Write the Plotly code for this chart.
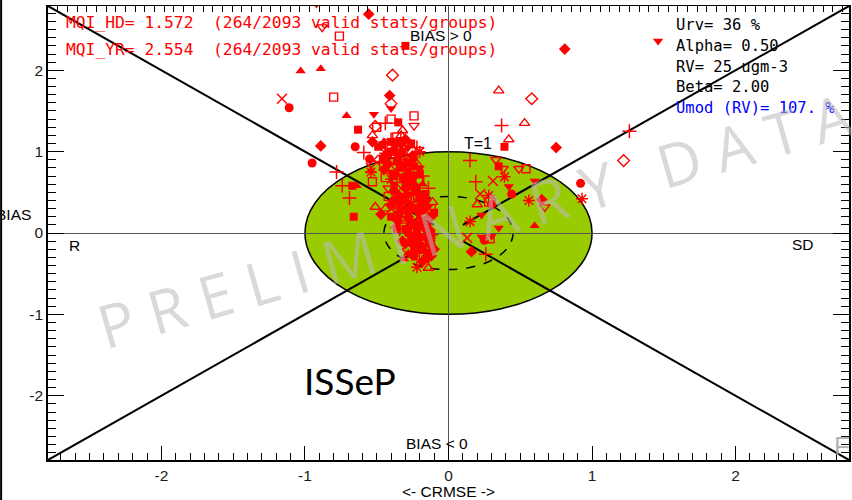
import numpy as np
import plotly.graph_objects as go

# ---------------- data ----------------
circle_pts = [(-1.11, 1.54), (-0.95, 0.86), (-0.65, 1.06), (-0.55, 0.91), (0.92, 0.61), (0.44, 0.48),
              (0.30, 0.35), (0.25, -0.09), (-0.30, 0.45), (-0.22, 0.10), (-0.18, -0.20), (-0.25, 0.60),
              (-0.12, -0.15), (-0.20, 0.30), (-0.35, 0.95), (-0.15, -0.30), (-0.28, 0.70), (-0.35, 0.15),
              (-0.24, -0.28), (-0.40, 1.00), (-0.16, 0.05), (-0.32, 0.82), (-0.20, 0.42), (-0.28, 0.00),
              (-0.14, -0.05), (-0.38, 0.40)]
square_pts = [(-0.30, 2.30), (-0.35, 1.36), (-0.63, 1.27), (-0.49, 1.06), (-0.67, 0.58), (-0.66, 0.20),
              (0.39, 1.06), (0.35, 0.82), (-0.40, 1.12), (-0.32, 1.00), (-0.45, 0.90), (-0.28, 0.75),
              (-0.38, 0.70), (-0.22, 0.55), (-0.33, 0.40), (-0.25, 0.30), (-0.18, 0.15), (-0.30, 0.05),
              (-0.12, 0.00), (-0.22, -0.10), (-0.15, -0.25), (-0.40, 0.20), (-0.28, 0.85), (-0.10, 0.25),
              (-0.20, -0.05), (-0.26, 1.10), (-0.46, 1.08), (-0.34, 0.80), (-0.20, 0.72), (-0.38, 0.52),
              (-0.16, 0.48), (-0.28, 0.28), (-0.24, -0.20), (-0.14, -0.12), (-0.30, 0.62), (-0.36, 0.05),
              (-0.18, 0.38), (-0.42, 0.98), (-0.36, 0.88), (-0.24, 0.82), (-0.32, 0.68), (-0.26, 0.58),
              (-0.34, 0.34), (-0.20, 0.10), (-0.26, -0.12), (-0.16, -0.32), (-0.22, 0.02)]
triup_pts = [(-1.03, 1.99), (-0.89, 2.02), (-0.71, 1.44), (0.60, 0.09), (-0.31, -0.32), (-0.42, 1.00),
             (-0.30, 0.65), (-0.20, 0.20), (-0.26, -0.05), (-0.36, 0.50), (-0.45, 1.12), (-0.22, 0.40),
             (-0.28, -0.25), (-0.64, 0.58), (-0.36, 0.72), (-0.18, 0.60), (-0.22, -0.18)]
diamond_pts = [(-0.556, 2.69), (0.81, 2.26), (-0.41, 1.69), (-0.89, 1.07), (-0.53, 1.12), (-0.33, 1.10),
               (0.75, 1.05), (0.65, 0.41), (0.16, -0.23), (-0.47, 0.23), (-0.38, 1.02), (-0.25, 0.95),
               (-0.45, 0.78), (-0.30, 0.55), (-0.40, 0.35), (-0.16, 0.40), (-0.28, 0.20), (-0.14, 0.05),
               (-0.32, -0.10), (-0.18, -0.35), (-0.10, -0.20), (-0.24, 0.70), (-0.42, 0.85), (-0.22, 0.50),
               (-0.34, 0.45), (-0.26, 0.10), (-0.20, -0.15), (-0.36, 1.10), (-0.12, 0.20), (-0.30, 1.15),
               (-0.44, 0.95), (-0.28, 0.62), (-0.18, 0.28), (-0.24, -0.05), (-0.12, -0.28), (-0.34, 0.25)]
tridown_pts = [(1.46, 2.36), (-0.40, 1.53), (-0.52, 1.46), (0.60, 0.64), (0.42, 0.57), (0.35, 0.06),
               (0.23, -0.05), (0.30, -0.04), (0.23, 0.22), (-0.35, 0.85), (-0.26, 0.48), (-0.15, 0.12),
               (-0.38, 0.60), (-0.22, 0.25), (-0.30, -0.15), (-0.12, -0.08), (-0.20, 0.80), (-0.28, 1.05),
               (-0.32, 0.30), (-0.17, -0.22), (-0.40, 0.75), (-0.34, 1.15), (-0.24, 0.90), (-0.30, 0.42),
               (-0.24, 0.15), (-0.14, 0.32)]
square_open_pts = [(-0.76, 2.42), (-0.80, 1.67), (-0.40, 1.40), (-0.24, 1.44), (-0.50, 1.30), (0.54, 0.79),
                   (0.28, 0.38), (0.29, -0.07), (-0.53, 0.63), (-0.40, 1.06), (-0.36, 1.18), (-0.30, 0.92),
                   (-0.44, 0.68), (-0.27, 0.42), (-0.35, 0.25), (-0.17, 0.00), (-0.23, -0.28), (-0.12, 0.30),
                   (-0.42, 0.45), (-0.20, 0.65), (-0.26, 1.00), (-0.38, 0.36), (-0.20, -0.20)]
diamond_open_pts = [(-0.39, 1.94), (-0.40, 1.59), (0.58, 1.65), (1.22, 0.89), (-0.51, 1.31), (0.29, 0.41),
                    (-0.33, 0.78), (-0.18, 0.35), (-0.28, -0.20)]
triup_open_pts = [(0.35, 1.75), (0.53, 1.35), (0.42, 1.15), (-0.53, 1.20), (-0.33, 1.20), (-0.32, 1.26),
                  (0.20, 0.35), (-0.51, 0.32), (-0.11, 0.38), (-0.14, -0.43), (-0.25, -0.27), (-0.40, 0.95),
                  (-0.25, 0.62), (-0.32, 0.15), (-0.44, 0.30), (-0.15, -0.05), (-0.22, 0.85)]
tridown_open_pts = [(-0.92, 2.83), (-0.88, 2.53), (-0.24, 1.32), (0.33, 0.90), (0.38, 0.79), (0.49, 0.79),
                    (0.67, 0.32), (-0.37, 0.82), (-0.29, 0.70), (-0.42, 0.55), (-0.19, 0.45), (-0.13, -0.12)]
cross_pts = [(0.37, 1.32), (1.26, 1.25), (0.15, 0.89), (0.19, 0.63), (0.26, -0.26), (-0.59, 0.99),
             (-0.78, 0.75), (-0.74, 0.58), (-0.69, 0.43), (-0.34, 0.05), (-0.48, 0.88), (-0.22, 1.05),
             (-0.38, 0.40), (-0.27, 0.15), (-0.18, 0.70), (-0.14, 0.55), (-0.44, 1.35), (-0.40, 1.15),
             (-0.26, 0.35), (-0.12, -0.02), (-0.32, 1.08), (-0.36, 0.62), (-0.16, 0.18)]
xmark_pts = [(-1.16, 1.65), (0.31, 0.64), (0.22, 0.48), (0.13, -0.06), (-0.37, 0.12), (-0.52, 0.90),
             (-0.40, 0.30), (-0.25, 0.08), (-0.15, 0.22), (-0.33, 0.55), (-0.54, 0.80)]
asterisk_pts = [(0.93, 0.42), (0.39, 0.69), (0.28, 0.46), (0.56, 0.40), (0.15, 0.14), (-0.54, 0.75),
                (-0.22, -0.42), (-0.30, 0.90), (-0.20, 1.00), (-0.36, 0.20), (-0.16, 0.10), (-0.44, 0.98),
                (-0.26, 0.55), (-0.20, -0.08), (-0.40, 0.66), (-0.28, 0.38)]

x_ticks = [-2, -1, 0, 1, 2]
x_tick_text = ["-2", "-1", "0", "1", "2"]
y_ticks = [-2, -1, 0, 1, 2]
y_tick_text = ["-2", "-1", "0", "1", "2"]
mqi_lines = ["MQI_HD= 1.572  (264/2093 valid stats/groups)",
             "MQI_YR= 2.554  (264/2093 valid stats/groups)"]
param_lines = ["Urv= 36 %", "Alpha= 0.50", "RV= 25 ugm-3", "Beta= 2.00"]
umod_line = "Umod (RV)= 107. %"

# ---------------- layout constants ----------------
W, H = 852, 500
ML, MR, MT, MB = 48, 1, 6, 40
PW, PH = W - ML - MR, H - MT - MB
LIM = 2.79
RED = "#FF0000"


def px(x):
    return (x - ML) / PW


def py(y):
    return (H - MB - y) / PH


groups = [
    (circle_pts, "circle", 9, 0),
    (square_pts, "square", 8, 0),
    (triup_pts, "triangle-up", 9, 0),
    (diamond_pts, "diamond", 9, 0),
    (tridown_pts, "triangle-down", 9, 0),
    (square_open_pts, "square-open", 8, 1.4),
    (diamond_open_pts, "diamond-open", 9, 1.4),
    (triup_open_pts, "triangle-up-open", 9, 1.4),
    (tridown_open_pts, "triangle-down-open", 9, 1.4),
    (cross_pts, "cross-thin-open", 10, 1.5),
    (xmark_pts, "x-thin-open", 10, 1.5),
    (asterisk_pts, "asterisk-open", 10, 1.5),
]

fig = go.Figure()
for pts, sym, size, lw in groups:
    xs = [p[0] for p in pts]
    ys = [p[1] for p in pts]
    fig.add_trace(go.Scatter(
        x=xs, y=ys, mode="markers", showlegend=False, hoverinfo="skip",
        marker=dict(symbol=sym, size=size, color=RED,
                    line=dict(color=RED, width=lw)),
    ))

# invisible trace that activates the top axis
fig.add_trace(go.Scatter(x=[-LIM, LIM], y=[0, 0], xaxis="x2", mode="markers",
                         marker=dict(opacity=0), showlegend=False, hoverinfo="skip"))

shapes = []
shapes.append(dict(type="circle", xref="x", yref="y", x0=-1, x1=1, y0=-1, y1=1,
                   fillcolor="#99CC00", line=dict(color="black", width=1.5), layer="below"))
shapes.append(dict(type="circle", xref="x", yref="y", x0=-0.45, x1=0.45, y0=-0.45, y1=0.45,
                   fillcolor="rgba(0,0,0,0)", line=dict(color="black", width=1.5, dash="dash"),
                   layer="below"))
for sx, sy in [(-1, 1), (1, 1), (-1, -1), (1, -1)]:
    shapes.append(dict(type="line", xref="x", yref="y", x0=sx * LIM, y0=sy * LIM,
                       x1=sx * 0.1, y1=sy * 0.1, line=dict(color="black", width=2), layer="below"))
shapes.append(dict(type="rect", xref="paper", yref="paper", x0=px(0), x1=px(2),
                   y0=py(H), y1=py(0), fillcolor="black", line=dict(width=0)))

ann = []
ARIAL = "Liberation Sans, Arial, sans-serif"
MONO = "DejaVu Sans Mono, monospace"
for i, t in enumerate(mqi_lines):
    ann.append(dict(text=t, x=px(64), y=py(23 + 27 * i), xanchor="left", yanchor="middle",
                    font=dict(family=MONO, size=16.3, color=RED)))
for i, t in enumerate(param_lines):
    ann.append(dict(text=t, x=px(676), y=py(25 + 20.8 * i), xanchor="left", yanchor="middle",
                    font=dict(family=MONO, size=15.5, color="black")))
ann.append(dict(text=umod_line, x=px(676), y=py(25 + 20.8 * 4), xanchor="left", yanchor="middle",
                font=dict(family=MONO, size=15.5, color="#0000FF")))
ann.append(dict(text="BIAS > 0", x=px(409), y=py(36), xanchor="left", yanchor="middle",
                font=dict(family=ARIAL, size=15.5, color="black")))
ann.append(dict(text="BIAS < 0", x=px(405), y=py(443), xanchor="left", yanchor="middle",
                font=dict(family=ARIAL, size=15.5, color="black")))
ann.append(dict(text="T=1", x=px(463), y=py(143), xanchor="left", yanchor="middle",
                font=dict(family=ARIAL, size=16, color="black")))
ann.append(dict(text="R", x=px(67), y=py(245), xanchor="left", yanchor="middle",
                font=dict(family=ARIAL, size=15.5, color="black")))
ann.append(dict(text="SD", x=px(792), y=py(244), xanchor="left", yanchor="middle",
                font=dict(family=ARIAL, size=15.5, color="black")))
ann.append(dict(text="BIAS", x=px(33), y=py(214), xanchor="right", yanchor="middle",
                font=dict(family=ARIAL, size=15.5, color="black")))
ann.append(dict(text="<- CRMSE ->", x=px(450), y=py(491), xanchor="center", yanchor="middle",
                font=dict(family=ARIAL, size=15.5, color="black")))
ann.append(dict(text="ISSeP", x=px(303), y=py(380), xanchor="left", yanchor="middle",
                font=dict(family="Lato, Open Sans, sans-serif", size=37, color="black")))
ann.append(dict(text="P R E L I M I N A R Y   D A T A", x=px(476), y=py(220), xanchor="center",
                yanchor="middle", textangle=-16,
                font=dict(family="Open Sans, sans-serif", size=60, color="rgba(185,185,185,0.55)")))
ann.append(dict(text="F", x=px(834), y=py(446), xanchor="left", yanchor="middle",
                font=dict(family=ARIAL, size=26, color="rgba(165,165,165,0.85)")))
for a in ann:
    a.update(xref="paper", yref="paper", showarrow=False)

top_ticks = list(np.arange(-LIM, LIM, 0.0675))
TICKFONT = dict(family=ARIAL, size=15.5, color="#1a1a1a")

fig.update_layout(
    width=W, height=H, margin=dict(l=ML, r=MR, t=MT, b=MB),
    paper_bgcolor="white", plot_bgcolor="white",
    shapes=shapes, annotations=ann, showlegend=False,
    xaxis=dict(range=[-LIM, LIM], tickmode="array", tickvals=x_ticks, ticktext=x_tick_text,
               ticks="inside", ticklen=14,
               tickwidth=1, tickcolor="black", showline=True, linecolor="black", linewidth=2,
               mirror=False, showgrid=False, zeroline=True, zerolinecolor="#555555",
               zerolinewidth=1, tickfont=TICKFONT,
               minor=dict(tick0=0, dtick=0.1, ticks="inside", ticklen=7, tickcolor="black",
                          showgrid=False)),
    xaxis2=dict(range=[-LIM, LIM], overlaying="x", side="top", tickmode="array",
                tickvals=top_ticks, ticks="inside", ticklen=6, tickcolor="black",
                showticklabels=False, showline=True, linecolor="black", linewidth=1,
                showgrid=False, zeroline=False),
    yaxis=dict(range=[-LIM, LIM], tickmode="array", tickvals=y_ticks, ticktext=y_tick_text,
               ticks="inside", ticklen=16,
               tickwidth=1, tickcolor="black", showline=True, linecolor="black", linewidth=1.5,
               mirror="ticks", showgrid=False, zeroline=True, zerolinecolor="#555555",
               zerolinewidth=1, tickfont=TICKFONT,
               minor=dict(tick0=0, dtick=0.1, ticks="inside", ticklen=8, tickcolor="black",
                          showgrid=False)),
)

fig.write_html("out.html")
